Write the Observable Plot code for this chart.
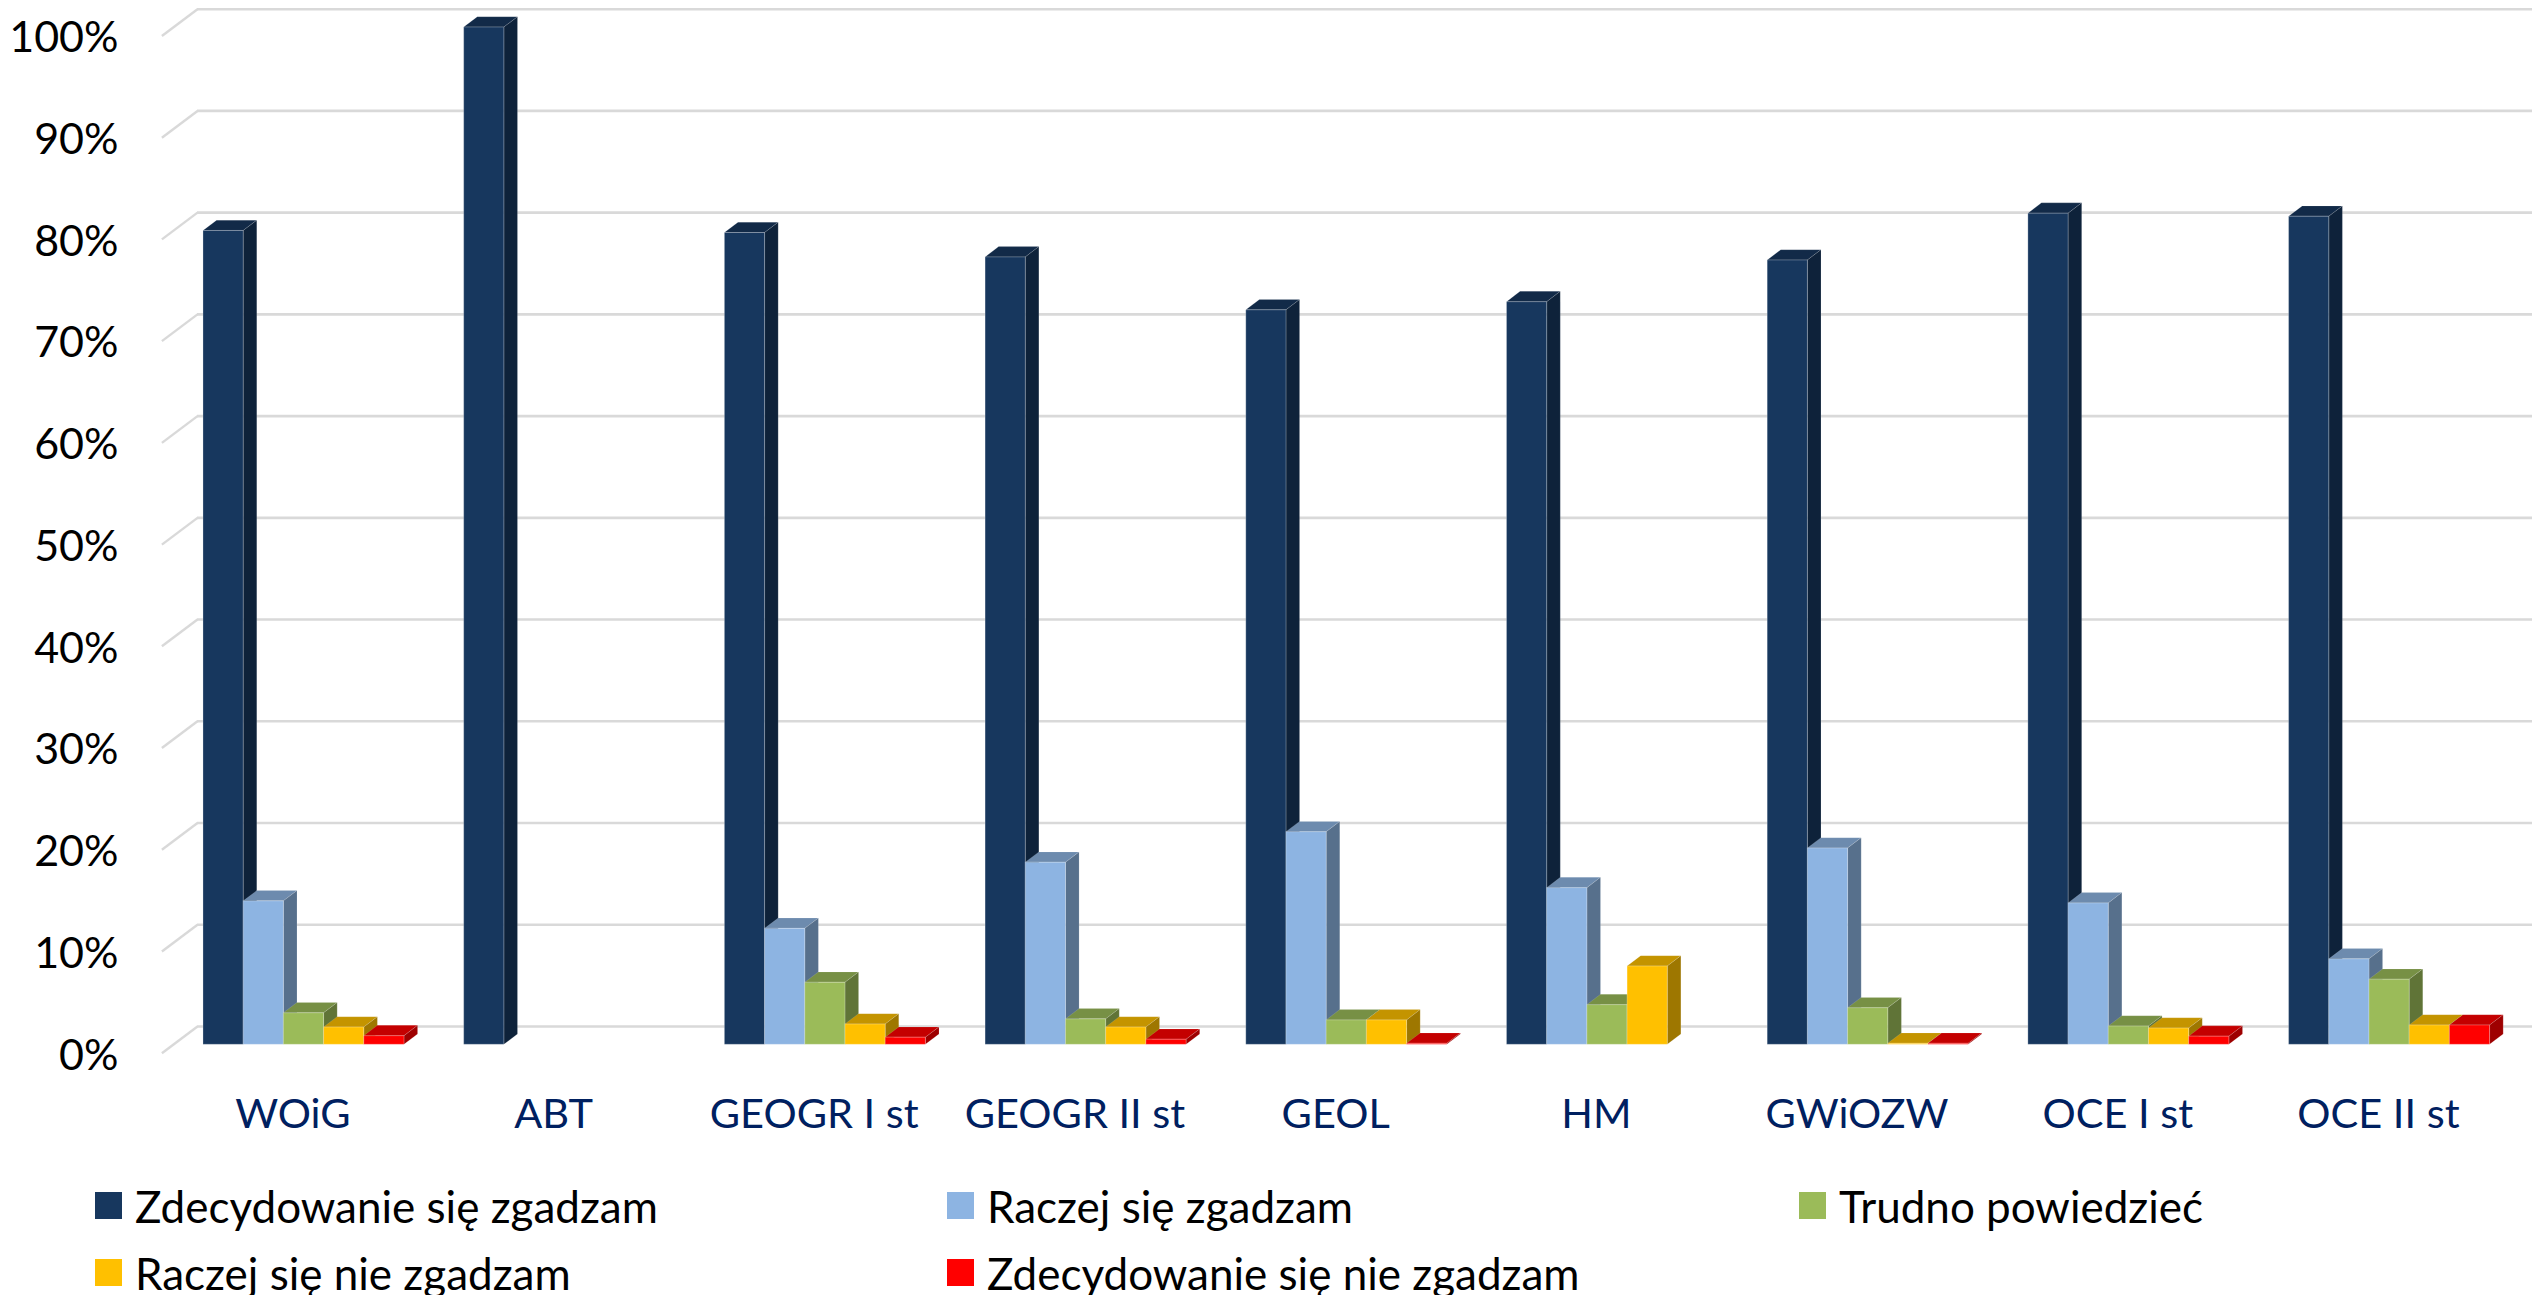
<!DOCTYPE html>
<html lang="pl">
<head>
<meta charset="utf-8">
<script src="https://cdn.jsdelivr.net/npm/d3@7"></script>
<script src="https://cdn.jsdelivr.net/npm/@observablehq/plot@0.6"></script>
<style>
  html, body { margin: 0; padding: 0; background: #fff; overflow: hidden; }
  body { width: 2532px; height: 1295px; font-family: Lato, "Open Sans", sans-serif; }
  #chart svg { display: block; }
  #legend { display: grid; grid-template-columns: repeat(3, 852px); grid-auto-rows: 67px;
            padding: 22px 0 0 95px; height: 123px; box-sizing: border-box; font-size: 44px; line-height: 1; color: #000; }
  #legend div { display: flex; align-items: center; white-space: nowrap; height: 67px; }
  #legend i { display: inline-block; width: 27px; height: 27px; margin-right: 13px; flex: none; }
</style>
</head>
<body>
<div id="chart"></div>
<div id="legend"></div>
<script>
const categories = ["WOiG", "ABT", "GEOGR I st", "GEOGR II st", "GEOL", "HM", "GWiOZW", "OCE I st", "OCE II st"];
const seriesNames = ["Zdecydowanie się zgadzam", "Raczej się zgadzam", "Trudno powiedzieć", "Raczej się nie zgadzam", "Zdecydowanie się nie zgadzam"];
const colors = ["#17375E", "#8DB4E2", "#9BBB59", "#FFC000", "#FF0000"];
const zdecydowanieTak = [80.0, 100, 79.8, 77.4, 72.2, 73.0, 77.1, 81.7, 81.4];
const raczejTak       = [14.1, 0, 11.4, 17.9, 20.9, 15.4, 19.3, 13.9, 8.4];
const trudno          = [3.1, 0, 6.1, 2.5, 2.4, 3.9, 3.6, 1.8, 6.4];
const raczejNie       = [1.7, 0, 2.0, 1.7, 2.4, 7.7, 0.1, 1.6, 1.9];
const zdecydowanieNie = [0.85, 0, 0.7, 0.5, 0.1, 0, 0.1, 0.8, 1.9];
const seriesValues = [zdecydowanieTak, raczejTak, trudno, raczejNie, zdecydowanieNie];
const yTicks = [0, 10, 20, 30, 40, 50, 60, 70, 80, 90, 100];

const barStep = 0.1542, groupPad = 0.115;
const rows = seriesValues.flatMap((vals, s) => vals.map((v, g) => ({
  category: categories[g], series: seriesNames[s], value: v, g, s
}))).filter(d => d.value > 0).sort((a, b) => a.g - b.g || a.s - b.s);

// Bars keep their 3-D look: each rect drawn by Plot gets a top and a side face.
const DX = 13.6, DY = 10.3;
const shade = (c, k) => { const r = d3.rgb(c); return d3.rgb(r.r * k, r.g * k, r.b * k).formatHex(); };
function extrude(index, scales, values, dimensions, context, next) {
  const g = next(index, scales, values, dimensions, context);
  for (const rect of Array.from(g.querySelectorAll("rect"))) {
    const x = +rect.getAttribute("x"), y = +rect.getAttribute("y");
    const w = +rect.getAttribute("width"), h = +rect.getAttribute("height");
    const fill = rect.getAttribute("fill");
    const face = (d, k) => {
      const p = document.createElementNS("http://www.w3.org/2000/svg", "path");
      p.setAttribute("d", d);
      p.setAttribute("fill", shade(fill, k));
      p.setAttribute("stroke", "#fff");
      p.setAttribute("stroke-opacity", 0.12);
      p.setAttribute("stroke-width", 1);
      rect.parentNode.insertBefore(p, rect);
    };
    face(`M${x},${y}l${DX},${-DY}h${w}l${-DX},${DY}z`, 0.77);
    face(`M${x + w},${y}l${DX},${-DY}v${h}l${-DX},${DY}z`, 0.62);
    rect.setAttribute("stroke", "#fff");
    rect.setAttribute("stroke-opacity", 0.25);
    rect.setAttribute("stroke-width", 1);
  }
  return g;
}

// Floor/wall offsets in data units: back wall and front edge of the gridlines.
const backX = 0.092, frontX = -0.0445, backY = 1.8, frontY = -0.83;

const plot = Plot.plot({
  width: 2532, height: 1150,
  marginLeft: 173, marginRight: 12.7, marginTop: 27, marginBottom: 105.7,
  style: { fontFamily: "Lato, 'Open Sans', sans-serif", background: "#fff" },
  x: { domain: [0, 9], axis: null },
  y: { domain: [0, 100], axis: null },
  color: { domain: seriesNames, range: colors },
  marks: [
    Plot.ruleY(yTicks, { y: d => d + backY, x1: backX, x2: 9.2, stroke: "#D9D9D9", strokeWidth: 2.6 }),
    Plot.link(yTicks, { x1: frontX, y1: d => d + frontY, x2: backX, y2: d => d + backY, stroke: "#D9D9D9", strokeWidth: 2.4 }),
    Plot.rectY(rows, {
      x1: d => d.g + groupPad + d.s * barStep,
      x2: d => d.g + groupPad + (d.s + 1) * barStep,
      y1: 0, y2: "value", fill: "series", render: extrude
    }),
    Plot.axisY(yTicks, { anchor: "left", tickSize: 0, tickPadding: 55, dy: 11, fontSize: 43, fill: "#000",
      tickFormat: d => d + "%", label: null }),
    Plot.axisX(categories.map((_, i) => i + 0.5), { anchor: "bottom", tickSize: 0, tickPadding: 54, dx: -11, fontSize: 41.5,
      fill: "#002060", tickFormat: d => categories[Math.floor(d)], label: null })
  ]
});
document.getElementById("chart").appendChild(plot);

const legend = d3.select("#legend");
seriesNames.forEach((name, i) => {
  const item = legend.append("div");
  item.append("i").style("background", colors[i]);
  item.append("span").text(name);
});
</script>
</body>
</html>
